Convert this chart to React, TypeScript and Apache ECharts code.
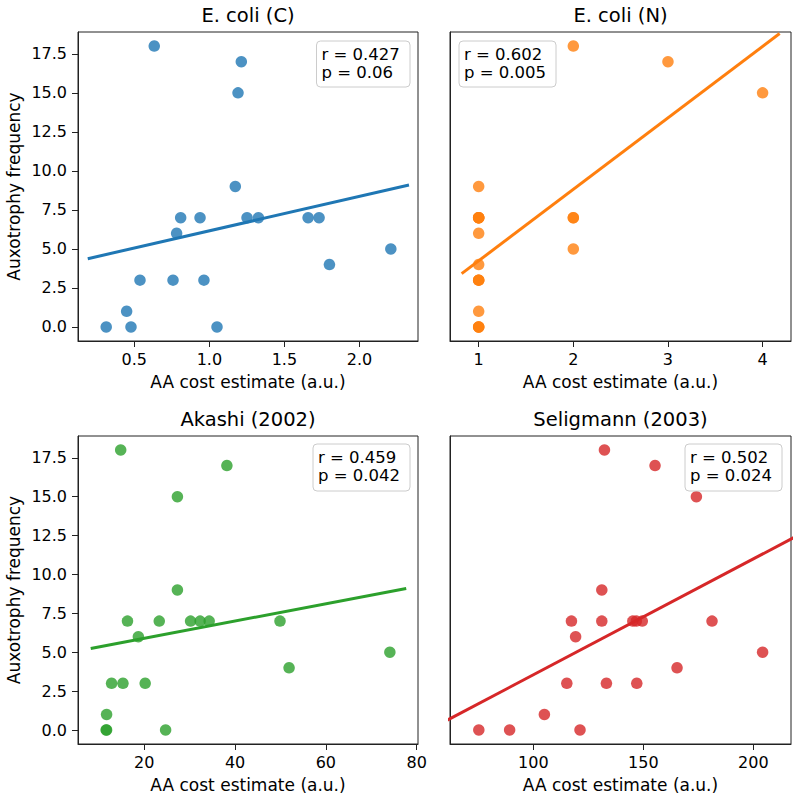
import React, { useEffect, useRef } from "react";
import * as echarts from "echarts";

const titles = ["E. coli (C)", "E. coli (N)", "Akashi (2002)", "Seligmann (2003)"];
const colors = ["#1f77b4", "#ff7f0e", "#2ca02c", "#d62728"];
const rValues = ["0.427", "0.602", "0.459", "0.502"];
const pValues = ["0.06", "0.005", "0.042", "0.024"];

const ecoliCX = [0.633, 1.213, 1.191, 1.173, 0.809, 0.938, 0.782, 1.251, 1.327, 1.658, 1.731, 2.209, 1.8, 0.538, 0.758, 0.964, 0.449, 0.313, 0.478, 1.051];
const ecoliCY = [18, 17, 15, 9, 7, 7, 6, 7, 7, 7, 7, 5, 4, 3, 3, 3, 1, 0, 0, 0];

const ecoliNX = [2, 3, 4, 1, 1, 1, 1, 1, 2, 2, 1, 2, 1, 1, 1, 1, 1, 1, 1, 1];
const ecoliNY = [18, 17, 15, 9, 7, 7, 7, 7, 7, 7, 6, 5, 4, 3, 3, 3, 1, 0, 0, 0];

const akashiX = [14.8, 38.2, 27.3, 27.3, 16.3, 23.3, 30.2, 32.3, 34.3, 49.9, 18.7, 74.1, 51.9, 12.8, 15.3, 20.2, 11.7, 11.6, 11.7, 24.7];
const akashiY = [18, 17, 15, 9, 7, 7, 7, 7, 7, 7, 6, 5, 4, 3, 3, 3, 1, 0, 0, 0];

const seligmannX = [132.3, 155.3, 174.1, 131.1, 117.3, 131.1, 145.2, 146.8, 149.5, 181.2, 119.2, 204.2, 165.3, 115.2, 133.2, 147.0, 105.0, 75.2, 89.2, 121.2];
const seligmannY = [18, 17, 15, 9, 7, 7, 7, 7, 7, 7, 6, 5, 4, 3, 3, 3, 1, 0, 0, 0];

const xTicksC = [0.5, 1.0, 1.5, 2.0];
const xTicksN = [1, 2, 3, 4];
const xTicksA = [20, 40, 60, 80];
const xTicksS = [100, 150, 200];
const yTicks = [0, 2.5, 5, 7.5, 10, 12.5, 15, 17.5];

const xRangeC = [0.125, 2.39];
const xRangeN = [0.697, 4.3];
const xRangeA = [5.4, 80.3];
const xRangeS = [62.1, 217.1];
const yRange = [-0.9, 18.9];

const fitExtentC = [0.19, 2.33];
const fitExtentN = [0.82, 4.18];
const fitExtentA = [8.2, 77.7];
const fitExtentS = [55, 225];

const FONT = "DejaVu Sans";

function fit(xs: number[], ys: number[]) {
  const n = xs.length;
  const mx = xs.reduce((a, b) => a + b, 0) / n;
  const my = ys.reduce((a, b) => a + b, 0) / n;
  let sxy = 0, sxx = 0;
  for (let i = 0; i < n; i++) {
    sxy += (xs[i] - mx) * (ys[i] - my);
    sxx += (xs[i] - mx) * (xs[i] - mx);
  }
  const slope = sxy / sxx;
  return { slope, intercept: my - slope * mx };
}

export default function App() {
  const ref = useRef<HTMLDivElement>(null);
  useEffect(() => {
    if (!ref.current) return;
    const chart = echarts.init(ref.current, null, { renderer: "svg" });

    const grids = [
      { left: 78, top: 32, width: 340, height: 309 },
      { left: 450, top: 32, width: 341, height: 309 },
      { left: 78, top: 436, width: 340, height: 308 },
      { left: 450, top: 436, width: 341, height: 308 },
    ];
    const panels = [
      { xs: ecoliCX, ys: ecoliCY, ticks: xTicksC, range: xRangeC, ext: fitExtentC, fmt: (v: number) => v.toFixed(1) },
      { xs: ecoliNX, ys: ecoliNY, ticks: xTicksN, range: xRangeN, ext: fitExtentN, fmt: (v: number) => String(Math.round(v)) },
      { xs: akashiX, ys: akashiY, ticks: xTicksA, range: xRangeA, ext: fitExtentA, fmt: (v: number) => String(Math.round(v)) },
      { xs: seligmannX, ys: seligmannY, ticks: xTicksS, range: xRangeS, ext: fitExtentS, fmt: (v: number) => String(Math.round(v)) },
    ];
    const axisColor = "#222";
    const legendBoxes = [
      { x: 316.5, y: 41, w: 93.5, h: 46 },
      { x: 459, y: 41, w: 97, h: 46 },
      { x: 313, y: 444, w: 97, h: 47 },
      { x: 685, y: 444, w: 97, h: 47 },
    ];

    const series: any[] = [];
    const xAxis: any[] = [];
    const yAxis: any[] = [];
    const graphic: any[] = [];
    panels.forEach((p, i) => {
      xAxis.push({
        type: "value", gridIndex: i, min: p.range[0], max: p.range[1],
        name: "AA cost estimate (a.u.)", nameLocation: "middle", nameGap: 32,
        nameTextStyle: { fontFamily: FONT, fontSize: 17, color: "#000" },
        axisLine: { show: true, onZero: false, lineStyle: { color: axisColor, width: 1 } },
        axisTick: { show: true, length: 6, customValues: p.ticks, lineStyle: { color: axisColor } },
        axisLabel: { show: true, customValues: p.ticks, margin: 10, fontFamily: FONT, fontSize: 16, color: "#000", formatter: (v: number) => p.fmt(v) },
        splitLine: { show: false },
      });
      const showY = i % 2 === 0;
      yAxis.push({
        type: "value", gridIndex: i, min: yRange[0], max: yRange[1],
        name: showY ? "Auxotrophy frequency" : "", nameLocation: "middle", nameGap: 56,
        nameTextStyle: { fontFamily: FONT, fontSize: 17, color: "#000" },
        axisLine: { show: true, onZero: false, lineStyle: { color: axisColor, width: 1 } },
        axisTick: { show: showY, length: 6, customValues: yTicks, lineStyle: { color: axisColor } },
        axisLabel: { show: showY, customValues: yTicks, margin: 11, fontFamily: FONT, fontSize: 16, color: "#000", formatter: (v: number) => v.toFixed(1) },
        splitLine: { show: false },
      });
      series.push({
        type: "scatter", xAxisIndex: i, yAxisIndex: i,
        data: p.xs.map((x, k) => [x, p.ys[k]]),
        symbolSize: 11.5,
        itemStyle: { color: colors[i], opacity: 0.8 },
        z: 2,
      });
      const f = fit(p.xs, p.ys);
      series.push({
        type: "line", xAxisIndex: i, yAxisIndex: i,
        data: p.ext.map((x) => [x, f.intercept + f.slope * x]),
        showSymbol: false, symbol: "none", clip: true,
        lineStyle: { color: colors[i], width: 3 },
        z: 3,
      });
      const lb = legendBoxes[i];
      graphic.push({
        type: "rect", z: 100,
        shape: { x: lb.x, y: lb.y, width: lb.w, height: lb.h, r: 4 },
        style: { fill: "rgba(255,255,255,0.8)", stroke: "#cccccc", lineWidth: 1 },
      });
      graphic.push({
        type: "text", z: 101,
        x: lb.x + 5, y: lb.y + 4.5,
        style: {
          text: `r = ${rValues[i]}\np = ${pValues[i]}`,
          font: `16.5px "${FONT}"`, fill: "#000", lineHeight: 18, verticalAlign: "top", align: "left",
        },
      });
    });

    const titleTops = [5, 5, 409, 409];
    chart.setOption({
      animation: false,
      backgroundColor: "#fff",
      title: titles.map((t, i) => ({
        text: t, left: grids[i].left + grids[i].width / 2, top: titleTops[i], textAlign: "center", padding: 0,
        textStyle: { fontFamily: FONT, fontSize: 19.5, fontWeight: "normal", color: "#000" },
      })),
      grid: grids.map((g) => ({ ...g, show: true, borderColor: axisColor, borderWidth: 1, backgroundColor: "transparent", containLabel: false })),
      xAxis, yAxis, series, graphic,
    });
    return () => chart.dispose();
  }, []);
  return <div ref={ref} style={{ position: "absolute", left: 0, top: 0, width: 800, height: 801 }} />;
}
